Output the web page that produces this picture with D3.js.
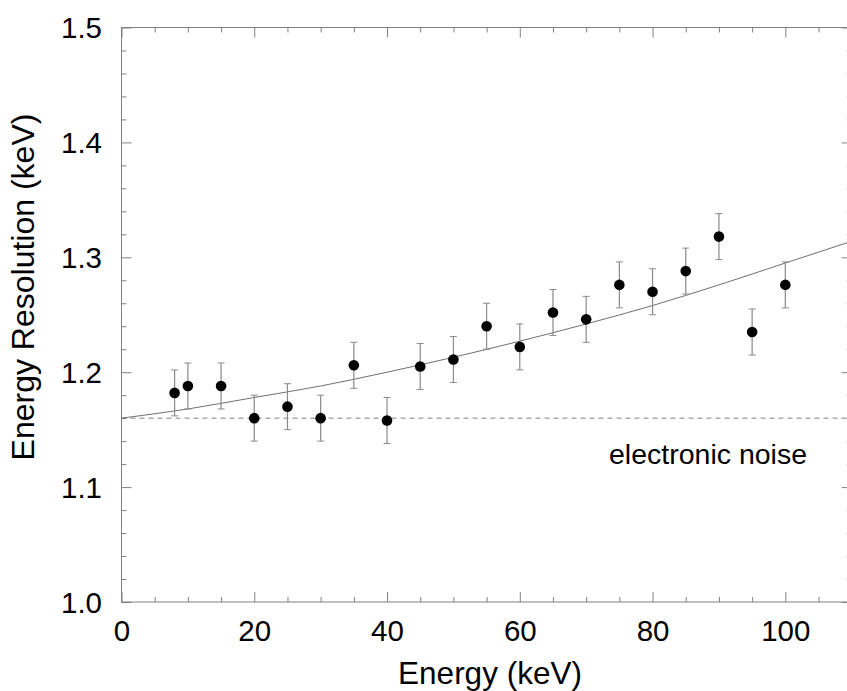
<!DOCTYPE html>
<html>
<head>
<meta charset="utf-8">
<script src="https://cdn.jsdelivr.net/npm/d3@7"></script>
<style>
  html, body { margin: 0; padding: 0; background: #fff; }
  svg { display: block; }
  text { font-family: "Liberation Sans", Arial, sans-serif; fill: #000; }
</style>
</head>
<body>
<svg id="chart" width="847" height="691"></svg>
<script>
// ---- data ----
const energies = [8, 10, 15, 20, 25, 30, 35, 40, 45, 50, 55, 60, 65, 70, 75, 80, 85, 90, 95, 100];
const resolution = [1.182, 1.188, 1.188, 1.160, 1.170, 1.160, 1.206, 1.158, 1.205, 1.211,
                     1.240, 1.222, 1.252, 1.246, 1.276, 1.270, 1.288, 1.318, 1.235, 1.276];
const errors = [0.02, 0.02, 0.02, 0.02, 0.02, 0.02, 0.02, 0.02, 0.02, 0.02,
                0.02, 0.02, 0.02, 0.02, 0.02, 0.02, 0.02, 0.02, 0.02, 0.02];
// fitted curve
const fitEnergies = [0, 10, 20, 30, 40, 50, 60, 70, 80, 90, 100, 110];
const fitValues = [1.160, 1.168, 1.178, 1.188, 1.200, 1.213, 1.227, 1.242, 1.258, 1.276, 1.295, 1.314];
const noiseLevel = [1.16];
const xTicks = [0, 20, 40, 60, 80, 100];
const yTicks = [1.0, 1.1, 1.2, 1.3, 1.4, 1.5];
const xLabel = "Energy (keV)";
const yLabel = "Energy Resolution (keV)";
const noiseLabel = "electronic noise";

(function () {
// ---- layout ----
const pLeft = 121.5, pRight = 851.7, pTop = 27.5, pBottom = 602;
const svg = d3.select("#chart");
const x = d3.scaleLinear().domain([0, 110]).range([pLeft, pRight]);
const y = d3.scaleLinear().domain([1.0, 1.5]).range([pBottom, pTop]);
const axisColor = "#808080";

const xMinor = d3.range(0, 111, 5).filter(v => !xTicks.includes(v));
const yMinor = d3.range(1.0, 1.5001, 0.02).map(v => +v.toFixed(2)).filter(v => !yTicks.some(t => Math.abs(t - v) < 1e-6));

function styleAxis(g) {
  g.select(".domain").remove();
  g.selectAll("line").attr("stroke", axisColor).attr("stroke-width", 1);
}

// frame
svg.append("rect")
  .attr("x", pLeft).attr("y", pTop)
  .attr("width", pRight - pLeft).attr("height", pBottom - pTop)
  .attr("fill", "none").attr("stroke", axisColor).attr("stroke-width", 1);

// bottom axis (ticks inward)
const gB = svg.append("g").attr("transform", `translate(0,${pBottom})`)
  .call(d3.axisBottom(x).tickValues(xTicks).tickSize(-10).tickPadding(22).tickFormat(d3.format("d")));
gB.call(styleAxis);
gB.selectAll("text").attr("font-size", 29.5).attr("dy", "0.71em").attr("y", 18);
svg.append("g").attr("transform", `translate(0,${pBottom})`)
  .call(d3.axisBottom(x).tickValues(xMinor).tickSize(-5).tickFormat(""))
  .call(styleAxis);

// top axis
svg.append("g").attr("transform", `translate(0,${pTop})`)
  .call(d3.axisTop(x).tickValues(xTicks).tickSize(-10).tickFormat(""))
  .call(styleAxis);
svg.append("g").attr("transform", `translate(0,${pTop})`)
  .call(d3.axisTop(x).tickValues(xMinor).tickSize(-5).tickFormat(""))
  .call(styleAxis);

// left axis
const gL = svg.append("g").attr("transform", `translate(${pLeft},0)`)
  .call(d3.axisLeft(y).tickValues(yTicks).tickSize(-10).tickPadding(20).tickFormat(d3.format(".1f")));
gL.call(styleAxis);
gL.selectAll("text").attr("font-size", 29.5).attr("x", -19.5).attr("dy", "0.35em");
svg.append("g").attr("transform", `translate(${pLeft},0)`)
  .call(d3.axisLeft(y).tickValues(yMinor).tickSize(-5).tickFormat(""))
  .call(styleAxis);

// right axis
svg.append("g").attr("transform", `translate(${pRight},0)`)
  .call(d3.axisRight(y).tickValues(yTicks).tickSize(-10).tickFormat(""))
  .call(styleAxis);
svg.append("g").attr("transform", `translate(${pRight},0)`)
  .call(d3.axisRight(y).tickValues(yMinor).tickSize(-5).tickFormat(""))
  .call(styleAxis);

// electronic noise dashed line
svg.selectAll(".noise").data(noiseLevel).enter().append("line")
  .attr("class", "noise")
  .attr("x1", x(0)).attr("x2", x(110))
  .attr("y1", d => y(d)).attr("y2", d => y(d))
  .attr("stroke", "#808080").attr("stroke-width", 1)
  .attr("stroke-dasharray", "5,4");

// fit curve
const fitData = fitEnergies.map((e, i) => [e, fitValues[i]]);
svg.append("path")
  .datum(fitData)
  .attr("fill", "none").attr("stroke", "#707070").attr("stroke-width", 1)
  .attr("d", d3.line().x(d => x(d[0])).y(d => y(d[1])).curve(d3.curveMonotoneX));

// error bars and points
const pts = energies.map((e, i) => ({ e, v: resolution[i], err: errors[i] }));
const eb = svg.append("g").selectAll("g").data(pts).enter().append("g");
eb.append("line")
  .attr("x1", d => x(d.e)).attr("x2", d => x(d.e))
  .attr("y1", d => y(d.v - d.err)).attr("y2", d => y(d.v + d.err))
  .attr("stroke", "#8a8a8a").attr("stroke-width", 1.2);
eb.append("line")
  .attr("x1", d => x(d.e) - 3.5).attr("x2", d => x(d.e) + 3.5)
  .attr("y1", d => y(d.v + d.err)).attr("y2", d => y(d.v + d.err))
  .attr("stroke", "#8a8a8a").attr("stroke-width", 1);
eb.append("line")
  .attr("x1", d => x(d.e) - 3.5).attr("x2", d => x(d.e) + 3.5)
  .attr("y1", d => y(d.v - d.err)).attr("y2", d => y(d.v - d.err))
  .attr("stroke", "#8a8a8a").attr("stroke-width", 1);
eb.append("circle")
  .attr("cx", d => x(d.e)).attr("cy", d => y(d.v))
  .attr("r", 5.3).attr("fill", "#000");

// labels
svg.append("text")
  .attr("x", 609).attr("y", 464)
  .attr("font-size", 28.5)
  .text(noiseLabel);

svg.append("text")
  .attr("x", 490).attr("y", 684)
  .attr("text-anchor", "middle")
  .attr("font-size", 31.5)
  .text(xLabel);

svg.append("text")
  .attr("transform", "translate(34,287) rotate(-90)")
  .attr("text-anchor", "middle")
  .attr("font-size", 32)
  .text(yLabel);
})();
</script>
</body>
</html>
